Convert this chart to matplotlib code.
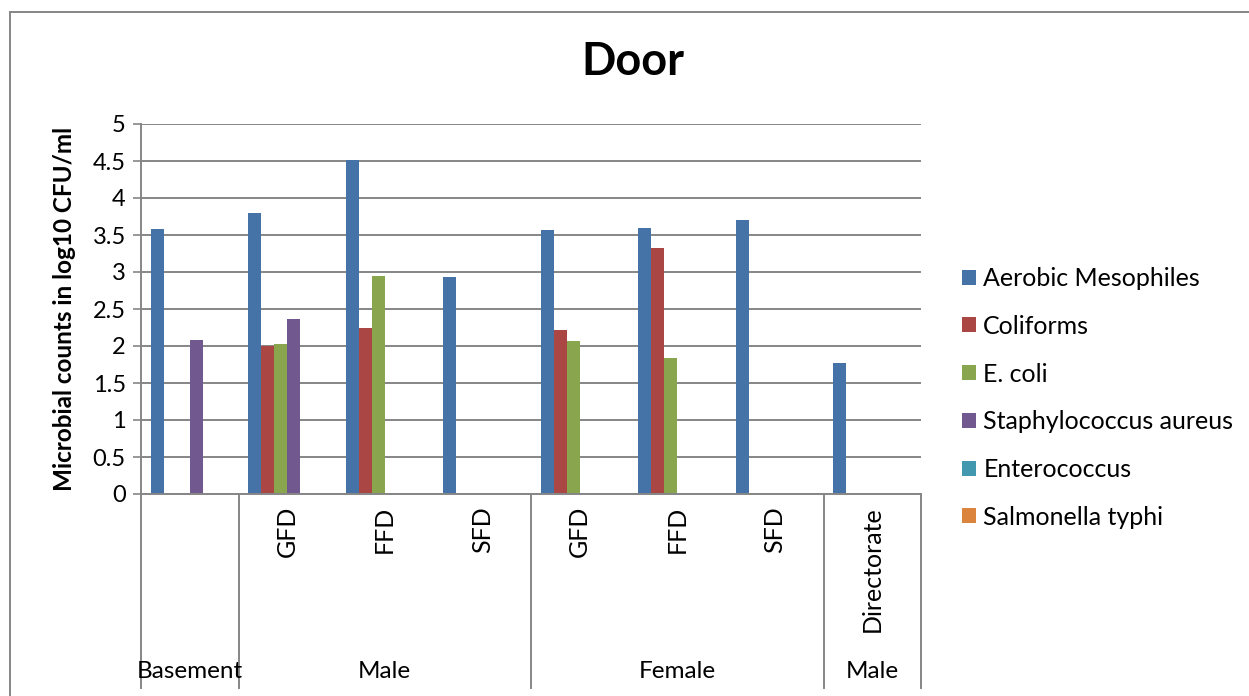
import numpy as np
import matplotlib
matplotlib.use("Agg")
from matplotlib import pyplot as plt
from matplotlib.patches import Rectangle
from matplotlib.transforms import blended_transform_factory

plt.rcParams['font.family'] = ['Lato', 'DejaVu Sans']

# data
sub_labels = ["", "GFD", "FFD", "SFD", "GFD", "FFD", "SFD", "Directorate"]
groups = ["Basement", "Male", "Female", "Male"]
group_spans = [(0, 0), (1, 3), (4, 6), (7, 7)]
series = ["Aerobic Mesophiles", "Coliforms", "E. coli",
          "Staphylococcus aureus", "Enterococcus", "Salmonella typhi"]
aerobic = [3.58, 3.80, 4.52, 2.93, 3.57, 3.59, 3.70, 1.77]
coliforms = [0, 2.00, 2.25, 0, 2.22, 3.32, 0, 0]
ecoli = [0, 2.03, 2.95, 0, 2.07, 1.84, 0, 0]
staph = [2.08, 2.36, 0, 0, 0, 0, 0, 0]
entero = [0, 0, 0, 0, 0, 0, 0, 0]
salmonella = [0, 0, 0, 0, 0, 0, 0, 0]
colors = ["#4572A7", "#AA4643", "#89A54E", "#71588F", "#4198AF", "#DB843D"]

W, H = 1249, 696
fig = plt.figure(figsize=(W / 100, H / 100), dpi=100)
ax = fig.add_axes([141 / W, (H - 494) / H, 780 / W, 370 / H])

x = np.arange(len(sub_labels))
bw = 0.8 / 6
for k, vals in enumerate([aerobic, coliforms, ecoli, staph, entero, salmonella]):
    ax.bar(x + (k - 2.5) * bw, vals, bw, color=colors[k], label=series[k],
           linewidth=0)

ax.set_xlim(-0.5, len(sub_labels) - 0.5)
ax.set_ylim(0, 5)
ax.set_yticks(np.arange(0, 5.01, 0.5))
ax.set_yticklabels(["0", "0.5", "1", "1.5", "2", "2.5", "3", "3.5", "4", "4.5", "5"])
ax.yaxis.grid(True, color="#868686", linewidth=1.4)
ax.set_axisbelow(True)
ax.tick_params(axis="y", direction="out", length=6, width=1.2, color="#868686",
               labelsize=17, pad=5)
ax.set_xticks([])
for s in ["top", "right"]:
    ax.spines[s].set_visible(False)
ax.spines["left"].set_color("#868686")
ax.spines["left"].set_linewidth(1.4)
ax.spines["bottom"].set_color("#868686")
ax.spines["bottom"].set_linewidth(1.4)

ax.set_ylabel("Microbial counts in log10 CFU/ml", fontsize=17.5,
              fontweight="bold", labelpad=12)
fig.text(633 / W, 1 - 62 / H, "Door", fontsize=32.5, fontweight="bold",
         ha="center", va="center")

# multi-level category axis
tr = blended_transform_factory(ax.transData, ax.transAxes)
for b in [-0.5, 0.5, 3.5, 6.5, 7.5]:
    ax.plot([b, b], [0, -194 / 370], transform=tr, color="#868686",
            linewidth=1.4, clip_on=False)
for i, lab in enumerate(sub_labels):
    ax.text(i, -12 / 370, lab, transform=tr, rotation=90, ha="center",
            va="top", fontsize=18)
for g, (a, b) in zip(groups, group_spans):
    ax.text((a + b) / 2, -177 / 370, g, transform=tr, ha="center",
            va="center", fontsize=17.5)

ax.legend(loc="upper left", bbox_to_anchor=(962 / W, 1 - 267 / H),
          bbox_transform=fig.transFigure, frameon=False, fontsize=18,
          handlelength=0.55, handleheight=0.55, handletextpad=0.3,
          labelspacing=0.99, borderpad=0, borderaxespad=0)

fig.add_artist(Rectangle((10 / W, -0.05), 1.2, (H - 12) / H + 0.05,
                         transform=fig.transFigure, fill=False,
                         edgecolor="#868686", linewidth=1.4))

fig.savefig("out.png", dpi=100)
